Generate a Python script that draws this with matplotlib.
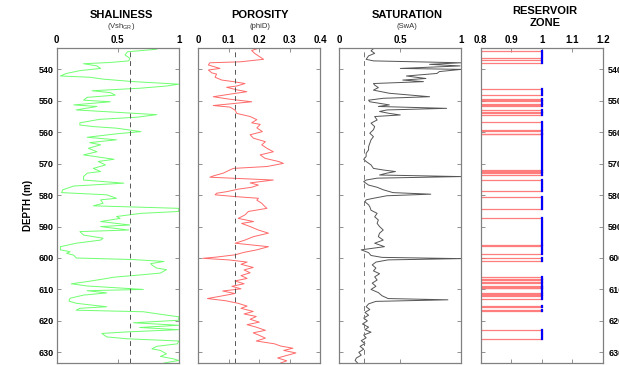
import numpy as np
import matplotlib.pyplot as plt

plt.rcParams['font.family'] = ['Liberation Sans', 'DejaVu Sans']

# --- data ---
vsh_depth = [533.3, 533.6, 534.4, 535.4, 536.5, 537.3, 537.8, 538.2, 538.9, 539.7,
             540.4, 541.3, 542.1, 542.5, 543.1, 543.9, 544.7, 545.3, 546.0, 546.8,
             547.4, 548.2, 548.9, 549.8, 550.3, 551.3, 551.8, 552.9, 554.4, 555.2,
             555.9, 557.0, 557.7, 558.2, 558.7, 559.8, 560.5, 561.6, 562.4, 563.3,
             564.0, 565.1, 566.2, 567.2, 568.6, 569.3, 570.4, 571.5, 572.5, 573.0,
             574.1, 575.2, 576.2, 577.1, 578.3, 579.2, 579.9, 581.0, 581.5, 582.6,
             583.4, 584.2, 585.2, 585.8, 586.8, 587.4, 588.4, 589.5, 590.0, 591.1,
             591.6, 592.7, 593.7, 594.3, 595.3, 596.4, 597.4, 598.0, 598.5, 599.1,
             600.0, 600.5, 601.1, 601.8, 602.5, 603.2, 603.7, 604.8, 605.3, 606.1,
             606.7, 607.5, 608.2, 608.9, 610.0, 610.4, 611.1, 611.8, 612.8, 613.7,
             614.4, 614.9, 615.5, 616.0, 616.6, 617.1, 617.9, 618.7, 619.8, 620.6,
             621.4, 622.1, 622.8, 623.5, 624.0, 625.1, 625.7, 626.4, 627.3, 628.1,
             628.9, 629.4, 630.5, 631.3, 632.1, 632.6, 633.4]
vsh = [0.76, 0.82, 0.58, 0.56, 0.60, 0.59, 0.44, 0.22, 0.33, 0.36,
       0.19, 0.08, 0.03, 0.27, 0.38, 0.63, 1.00, 0.90, 0.68, 0.29,
       0.44, 0.48, 0.25, 0.22, 0.44, 0.14, 0.33, 0.16, 0.82, 0.66,
       0.35, 0.19, 0.19, 0.30, 0.49, 0.69, 0.49, 0.25, 0.49, 0.27,
       0.36, 0.26, 0.33, 0.22, 0.47, 0.34, 0.40, 0.30, 0.36, 0.25,
       0.22, 0.22, 0.55, 0.14, 0.05, 0.04, 0.41, 0.49, 0.36, 0.38,
       0.30, 1.00, 1.00, 0.69, 0.49, 0.52, 0.36, 0.60, 0.36, 0.59,
       0.19, 0.22, 0.38, 0.36, 0.16, 0.03, 0.03, 0.11, 0.08, 0.14,
       0.16, 0.63, 0.88, 0.77, 0.79, 0.82, 0.90, 0.85, 0.71, 0.47,
       0.38, 0.25, 0.12, 0.25, 0.71, 0.25, 0.41, 0.22, 0.11, 0.10,
       0.16, 0.27, 0.41, 0.19, 0.16, 0.71, 0.85, 1.00, 1.00, 0.63,
       1.00, 0.68, 1.00, 0.58, 0.37, 0.41, 0.58, 1.00, 0.99, 0.82,
       0.78, 0.85, 0.90, 0.85, 0.96, 1.00, 0.88]

phi_depth = [533.3, 534.0, 535.0, 536.8, 537.6, 537.9, 538.6, 539.7, 540.2, 541.1,
             541.5, 542.5, 543.4, 543.9, 544.5, 545.3, 545.7, 546.5, 547.1, 547.8,
             548.7, 549.5, 550.3, 551.5, 552.0, 553.0, 554.0, 555.0, 556.0, 557.0,
             557.5, 558.6, 559.8, 560.8, 561.9, 563.0, 564.0, 565.1, 566.2, 567.2,
             568.3, 569.3, 569.9, 570.9, 571.5, 572.2, 573.0, 573.9, 574.3, 575.2,
             576.1, 576.8, 577.5, 578.1, 578.9, 579.4, 579.9, 580.5, 581.0, 581.6,
             582.6, 583.7, 584.2, 585.2, 586.3, 587.4, 588.4, 589.0, 590.0, 591.1,
             592.1, 593.2, 594.3, 595.3, 596.4, 597.4, 598.2, 599.0, 599.7, 600.1,
             600.6, 601.3, 602.0, 603.0, 603.8, 604.7, 605.6, 606.5, 607.3, 608.2,
             609.0, 609.8, 610.5, 611.3, 612.2, 612.9, 613.6, 614.4, 615.3, 616.0,
             617.0, 617.8, 618.6, 619.5, 620.4, 621.2, 622.0, 623.0, 623.8, 624.6,
             625.5, 626.4, 627.3, 628.0, 628.7, 629.4, 630.2, 631.0, 631.8, 632.7,
             633.4]
phi = [0.197, 0.175, 0.186, 0.214, 0.137, 0.038, 0.033, 0.071, 0.033, 0.044,
       0.060, 0.055, 0.077, 0.115, 0.153, 0.126, 0.093, 0.126, 0.159, 0.110,
       0.049, 0.104, 0.175, 0.049, 0.104, 0.121, 0.126, 0.170, 0.192, 0.175,
       0.203, 0.192, 0.210, 0.170, 0.181, 0.220, 0.208, 0.225, 0.246, 0.203,
       0.219, 0.263, 0.279, 0.225, 0.115, 0.099, 0.082, 0.049, 0.038, 0.246,
       0.170, 0.197, 0.175, 0.131, 0.093, 0.060, 0.055, 0.126, 0.197, 0.192,
       0.208, 0.219, 0.225, 0.164, 0.153, 0.131, 0.181, 0.142, 0.170, 0.197,
       0.230, 0.181, 0.153, 0.121, 0.230, 0.192, 0.150, 0.120, 0.060, 0.015,
       0.100, 0.160, 0.140, 0.180, 0.150, 0.170, 0.140, 0.160, 0.120, 0.150,
       0.110, 0.140, 0.080, 0.120, 0.070, 0.030, 0.090, 0.130, 0.160, 0.140,
       0.180, 0.150, 0.190, 0.170, 0.200, 0.160, 0.190, 0.220, 0.180, 0.200,
       0.220, 0.190, 0.250, 0.270, 0.310, 0.280, 0.320, 0.290, 0.260, 0.290,
       0.270]

sw_depth = [533.4, 534.1, 534.9, 535.7, 536.8, 537.3, 537.9, 538.4, 538.9, 539.7,
            540.0, 540.7, 541.3, 542.1, 542.9, 543.4, 543.9, 544.5, 545.0, 545.8,
            546.6, 547.6, 548.7, 549.2, 549.8, 550.3, 551.3, 551.8, 552.4, 552.9,
            553.4, 554.0, 554.5, 555.0, 556.1, 557.1, 558.2, 559.2, 560.3, 561.4,
            562.4, 563.5, 564.6, 565.6, 566.7, 567.7, 568.6, 569.3, 570.4, 571.5,
            572.0, 572.5, 573.0, 573.6, 574.1, 574.6, 575.2, 575.7, 576.8, 577.5,
            578.3, 579.2, 579.7, 580.2, 581.0, 581.5, 582.1, 583.1, 583.7, 584.8,
            585.8, 586.9, 587.9, 589.0, 590.0, 591.1, 592.1, 593.2, 594.3, 595.3,
            596.4, 597.4, 598.3, 599.2, 599.8, 600.2, 600.6, 601.3, 602.2, 603.2,
            604.1, 605.0, 606.0, 607.0, 608.0, 609.0, 610.0, 611.0, 612.0, 612.9,
            613.3, 613.8, 614.6, 615.5, 616.4, 617.3, 618.2, 619.1, 620.0, 621.0,
            622.0, 622.8, 623.6, 624.5, 625.4, 626.3, 627.2, 628.1, 629.0, 630.0,
            630.9, 631.8, 632.6, 633.4]
sw = [0.28, 0.26, 0.29, 0.24, 0.22, 0.28, 1.00, 0.74, 0.99, 0.50,
      1.00, 0.82, 0.80, 0.55, 0.71, 0.52, 0.69, 0.28, 0.29, 0.32,
      0.28, 0.41, 0.74, 0.36, 0.24, 0.25, 0.41, 0.32, 0.88, 0.39,
      0.33, 0.41, 0.50, 0.29, 0.31, 0.26, 0.29, 0.28, 0.25, 0.28,
      0.26, 0.25, 0.24, 0.24, 0.22, 0.22, 0.20, 0.22, 0.26, 0.28,
      0.36, 0.46, 0.39, 0.33, 1.00, 0.31, 0.22, 0.20, 0.24, 0.31,
      0.36, 0.44, 0.75, 0.39, 0.28, 0.22, 0.21, 0.24, 0.25, 0.26,
      0.31, 0.29, 0.32, 0.31, 0.33, 0.36, 0.33, 0.32, 0.36, 0.29,
      0.37, 0.18, 0.24, 0.26, 0.35, 1.00, 0.40, 0.30, 0.27, 0.30,
      0.28, 0.33, 0.29, 0.31, 0.27, 0.30, 0.26, 0.32, 0.35, 0.40,
      0.89, 0.30, 0.24, 0.22, 0.25, 0.21, 0.24, 0.20, 0.23, 0.19,
      0.24, 0.21, 0.26, 0.20, 0.22, 0.18, 0.21, 0.17, 0.20, 0.16,
      0.18, 0.14, 0.13, 0.15]

# reservoir intervals (top, base) in m
res_top = [534.2, 537.0, 546.1, 549.3, 550.1, 551.3, 553.0, 553.8, 556.8, 559.6,
           560.6, 572.2, 572.9, 575.3, 580.6, 587.3, 596.2, 600.0, 606.2, 607.0,
           607.8, 609.2, 609.7, 611.3, 612.1, 615.4, 616.6, 622.8]
res_base = [536.5, 538.1, 548.0, 549.8, 551.1, 551.7, 553.6, 554.6, 559.4, 560.4,
            571.9, 572.6, 573.7, 578.7, 584.3, 595.9, 598.6, 601.1, 606.7, 607.6,
            609.0, 609.5, 611.1, 611.9, 613.0, 615.7, 617.0, 625.8]

vsh_cut = 0.6
phi_cut = 0.12
sw_cut = 0.2

W, H = 619, 365
fig = plt.figure(figsize=(W / 100, H / 100), dpi=100)

top_px, bot_px = 48, 363
lefts = [56.7, 198.3, 339.3, 480.7]
width_px = 122
ylim = (633.4, 533.2)
yticks = np.arange(540, 631, 10)
spine_col = '#808080'

axes = []
for i, lp in enumerate(lefts):
    ax = fig.add_axes([lp / W, 1 - bot_px / H, width_px / W, (bot_px - top_px) / H])
    ax.set_ylim(*ylim)
    ax.set_yticks(yticks)
    ax.xaxis.tick_top()
    ax.tick_params(axis='both', direction='in', length=3, width=0.6, color=spine_col,
                   top=True, bottom=True, left=True, right=True,
                   labeltop=True, labelbottom=False, labelleft=False,
                   labelsize=7, pad=2)
    for s in ax.spines.values():
        s.set_color(spine_col)
        s.set_linewidth(0.9)
    axes.append(ax)

ax1, ax2, ax3, ax4 = axes

# shaliness
ax1.plot(vsh, vsh_depth, color='#70ff70', lw=0.7)
ax1.axvline(vsh_cut, color='#555555', ls=(0, (5, 4)), lw=0.7)
ax1.set_xlim(0, 1)
ax1.set_xticks([0, 0.5, 1])
ax1.set_xticklabels(['0', '0.5', '1'], fontweight='bold')
ax1.tick_params(axis='y', labelleft=True, labelsize=6.5)
for lab in ax1.get_yticklabels():
    lab.set_fontweight('bold')
ax1.set_ylabel('DEPTH (m)', fontsize=7, fontweight='bold', labelpad=4)

# porosity
ax2.plot(phi, phi_depth, color='#ff6a6a', lw=0.7)
ax2.axvline(phi_cut, color='#555555', ls=(0, (5, 4)), lw=0.7)
ax2.set_xlim(0, 0.4)
ax2.set_xticks([0, 0.1, 0.2, 0.3, 0.4])
ax2.set_xticklabels(['0', '0.1', '0.2', '0.3', '0.4'], fontweight='bold')

# saturation
ax3.plot(sw, sw_depth, color='#555555', lw=0.7)
ax3.axvline(sw_cut, color='#777777', ls=(0, (5, 4)), lw=0.7)
ax3.set_xlim(0, 1)
ax3.set_xticks([0, 0.5, 1])
ax3.set_xticklabels(['0', '0.5', '1'], fontweight='bold')

# reservoir flag
flag_d, flag_v, blue_d, blue_v = [], [], [], []
for t, b in zip(res_top, res_base):
    flag_d += [t, t, b, b]
    flag_v += [0, 1, 1, 0]
    blue_d += [t, b, np.nan]
    blue_v += [1, 1, np.nan]
ax4.plot(flag_v, flag_d, color='#ff6666', lw=0.9, alpha=0.85)
ax4.plot(blue_v, blue_d, color='#0000ff', lw=1.6)
ax4.set_xlim(0.8, 1.2)
ax4.set_xticks([0.8, 0.9, 1.0, 1.1, 1.2])
ax4.set_xticklabels(['0.8', '0.9', '1', '1.1', '1.2'], fontweight='bold')
ax4.tick_params(axis='y', labelright=True, labelsize=6.5, pad=4)
for lab in ax4.get_yticklabels():
    lab.set_fontweight('bold')

# titles
titles = [('SHALINESS', r'(Vsh$_{\mathregular{GR}}$)', 121),
          ('POROSITY', '(phiD)', 260),
          ('SATURATION', '(SwA)', 407)]
for main, sub, xc in titles:
    fig.text(xc / W, 1 - 15 / H, main, ha='center', va='center',
             fontsize=8, fontweight='bold')
    fig.text(xc / W, 1 - 27 / H, sub, ha='center', va='center',
             fontsize=5.5, color='#333333')
fig.text(545 / W, 1 - 11 / H, 'RESERVOIR', ha='center', va='center',
         fontsize=8, fontweight='bold')
fig.text(545 / W, 1 - 23 / H, 'ZONE', ha='center', va='center',
         fontsize=8, fontweight='bold')

fig.savefig('out.png', dpi=100)
